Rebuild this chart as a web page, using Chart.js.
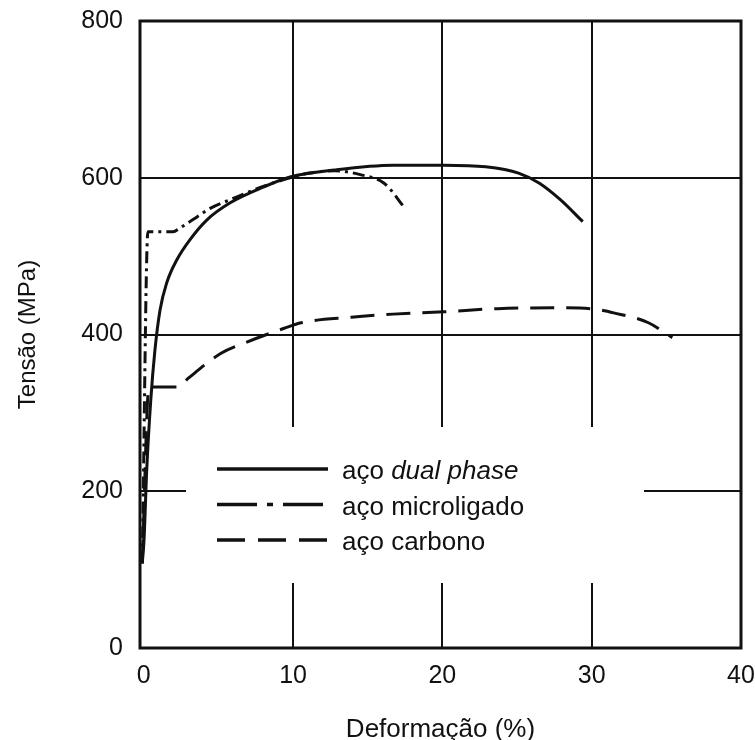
<!DOCTYPE html>
<html lang="pt">
<head>
<meta charset="utf-8">
<title>Tensão x deformação</title>
<script src="https://cdn.jsdelivr.net/npm/chart.js@4.4.1/dist/chart.umd.min.js"></script>
<style>
  html, body { margin: 0; padding: 0; background: #fff; }
  #wrap { width: 755px; height: 740px; position: relative; }
</style>
</head>
<body>
<div id="wrap"><canvas id="curves"></canvas></div>
<script>
// Stress-strain curves for three steel grades (strain in %, stress in MPa).
const X_TICKS = [0, 10, 20, 30, 40];
const Y_TICKS = [0, 200, 400, 600, 800];

const STRAIN_DUAL = [-0.1, 0.02, 0.2, 0.47, 0.75, 1.09, 1.54, 2.21, 3.1, 4.22, 5.79, 8.0, 9.8, 12.8, 16.7, 20.1, 22.9, 25.1, 26.5, 27.9, 29.4];
const STRESS_DUAL = [108, 138, 227, 316, 380, 431, 466, 495, 521, 546, 568, 588, 601, 610, 616, 616, 614, 606, 593, 572, 544];

const STRAIN_MICRO = [-0.1, 0.28, 1.96, 2.43, 3.57, 4.45, 5.79, 8.0, 9.8, 11.1, 12.8, 14.5, 16.1, 17.5];
const STRESS_MICRO = [108, 531, 531, 536, 550, 561, 572, 589, 600, 606, 609, 604, 593, 561];

const STRAIN_CARB = [-0.1, 0.35, 2.3, 2.97, 5.18, 6.86, 9.41, 10.55, 13.9, 16.7, 20.1, 23.7, 27.9, 29.9, 31.6, 33.8, 35.4];
const STRESS_CARB = [108, 333, 333, 344, 376, 390, 408, 415, 422, 426, 429, 433, 434, 433, 427, 415, 396];

const INK = "#111";
const FONT = "'Liberation Sans', Arial, Helvetica, sans-serif";
const DASH_MICRO = [12, 5, 3, 5];
const DASH_CARB = [24, 12];

const pairs = (xs, ys) => xs.map((x, i) => ({ x, y: ys[i] }));

// Key sits inside the plot on a blank panel that interrupts the grid.
const KEY = {
  panel: { left: 46, top: 406, width: 458, height: 156 },
  lineLeft: 77,
  lineLen: 111,
  textLeft: 202,
  firstRow: 448,
  rowGap: 35.5,
  rows: [
    { plain: "aço ", italic: "dual phase", dash: [] },
    { plain: "aço microligado", italic: "", dash: [40, 10, 6, 10] },
    { plain: "aço carbono", italic: "", dash: [28, 13] }
  ]
};

const frameAndKey = {
  id: "frameAndKey",
  afterDatasetsDraw(chart) {
    const { ctx, chartArea: a } = chart;
    ctx.save();
    ctx.fillStyle = "#fff";
    ctx.fillRect(a.left + KEY.panel.left, a.top + KEY.panel.top, KEY.panel.width, KEY.panel.height);

    ctx.strokeStyle = INK;
    ctx.fillStyle = INK;
    ctx.textBaseline = "alphabetic";
    KEY.rows.forEach((row, i) => {
      const y = a.top + KEY.firstRow + i * KEY.rowGap;
      ctx.lineWidth = 3.5;
      ctx.setLineDash(row.dash);
      ctx.beginPath();
      ctx.moveTo(a.left + KEY.lineLeft, y);
      ctx.lineTo(a.left + KEY.lineLeft + KEY.lineLen, y);
      ctx.stroke();
      ctx.setLineDash([]);

      const tx = a.left + KEY.textLeft;
      const ty = y + 10;
      ctx.font = "26px " + FONT;
      ctx.fillText(row.plain, tx, ty);
      if (row.italic) {
        const w = ctx.measureText(row.plain).width;
        ctx.font = "italic 26px " + FONT;
        ctx.fillText(row.italic, tx + w, ty);
      }
    });

    // plot frame
    ctx.lineWidth = 3;
    ctx.strokeRect(a.left, a.top, a.right - a.left, a.bottom - a.top);
    ctx.restore();
  }
};

const lineSet = (data, dash) => ({
  data,
  borderColor: INK,
  borderWidth: 3,
  borderDash: dash,
  pointRadius: 0,
  fill: false,
  cubicInterpolationMode: "monotone"
});

new Chart(document.getElementById("curves"), {
  type: "line",
  data: {
    datasets: [
      lineSet(pairs(STRAIN_DUAL, STRESS_DUAL), []),
      lineSet(pairs(STRAIN_MICRO, STRESS_MICRO), DASH_MICRO),
      lineSet(pairs(STRAIN_CARB, STRESS_CARB), DASH_CARB)
    ]
  },
  options: {
    responsive: true,
    maintainAspectRatio: false,
    animation: false,
    layout: { padding: { top: 21, right: 14, bottom: 0, left: 0 } },
    plugins: { legend: { display: false }, tooltip: { enabled: false } },
    scales: {
      x: {
        type: "linear",
        min: -0.25,
        max: 40,
        afterBuildTicks: (s) => { s.ticks = X_TICKS.map((v) => ({ value: v })); },
        // fixed band height; end labels may overhang the plot edges
        afterFit: (s) => {
          s.height = 92;
          s.paddingLeft = 0;
          s.paddingRight = 0;
        },
        grid: {
          color: (c) => (c.tick && c.tick.value === 0 ? "rgba(0,0,0,0)" : INK),
          lineWidth: 2,
          drawTicks: false
        },
        border: { display: false },
        ticks: { padding: 13, maxRotation: 0, color: INK, font: { family: FONT, size: 25 } },
        title: {
          display: true,
          text: "Deformação (%)",
          color: INK,
          font: { family: FONT, size: 26 },
          padding: { top: 0, bottom: -5 }
        }
      },
      y: {
        min: 0,
        max: 800,
        afterBuildTicks: (s) => { s.ticks = Y_TICKS.map((v) => ({ value: v })); },
        afterFit: (s) => {
          s.width = 140;
          s.paddingTop = 0;
          s.paddingBottom = 0;
        },
        grid: { color: INK, lineWidth: 2, drawTicks: false },
        border: { display: false },
        ticks: { padding: 17, color: INK, font: { family: FONT, size: 25 } },
        title: {
          display: true,
          text: "Tensão (MPa)",
          color: INK,
          font: { family: FONT, size: 24 },
          padding: { top: 14, bottom: 0 }
        }
      }
    }
  },
  plugins: [frameAndKey]
});
</script>
</body>
</html>
